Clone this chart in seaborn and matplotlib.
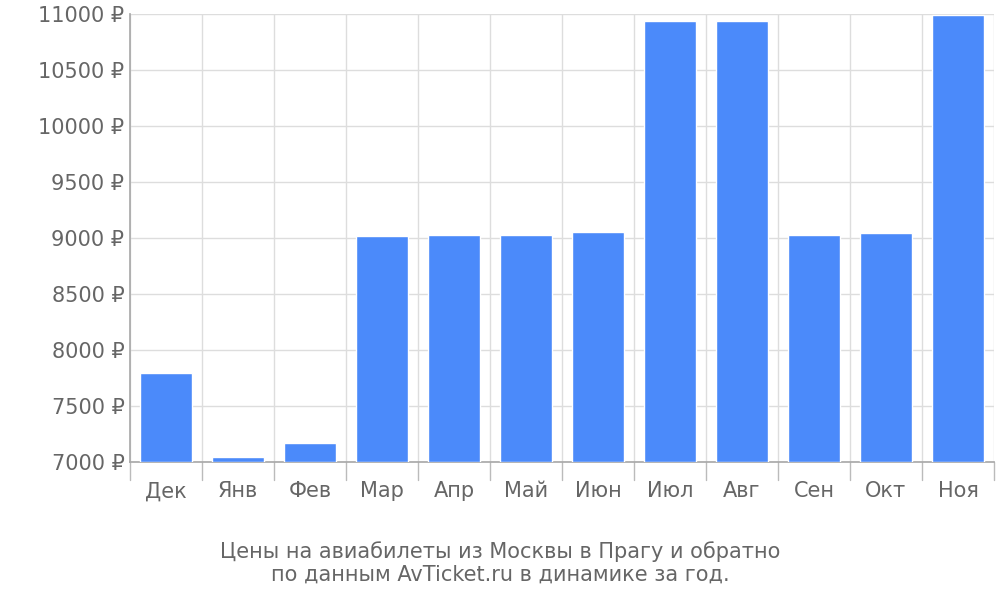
import matplotlib
matplotlib.use("Agg")
import matplotlib.pyplot as plt
import seaborn as sns
import pandas as pd

months = ["Дек", "Янв", "Фев", "Мар", "Апр", "Май", "Июн", "Июл", "Авг", "Сен", "Окт", "Ноя"]
prices = [7795, 7045, 7170, 9018, 9027, 9027, 9052, 10937, 10937, 9027, 9045, 10991]
yticks = [7000, 7500, 8000, 8500, 9000, 9500, 10000, 10500, 11000]
title = "Цены на авиабилеты из Москвы в Прагу и обратно\nпо данным AvTicket.ru в динамике за год."

sns.set_theme(style="white")
plt.rcParams['font.family'] = ['DejaVu Sans']
grey = "#666666"

df = pd.DataFrame({"month": months, "price": prices})
fig = plt.figure(figsize=(10, 6), dpi=100)
ax = fig.add_axes([0.13, 0.23, 0.864, 0.747])

sns.barplot(data=df, x="month", y="price", color="#4b8afa", saturation=1,
            width=0.72, ax=ax, bottom=0, zorder=3)
# bars start at 7000: redraw using bottom offset
for p in ax.patches:
    p.set_y(7000)
    p.set_height(p.get_height() - 7000)

ax.set_ylim(7000, 11000)
ax.set_xlim(-0.5, len(months) - 0.5)
ax.set_yticks(yticks)
ax.set_yticklabels([f"{v} ₽" for v in yticks], color=grey, fontsize=15)
ax.set_xticks(range(len(months)))
ax.set_xticklabels(months, color=grey, fontsize=15)
ax.tick_params(axis="x", length=0, pad=14)
ax.tick_params(axis="y", length=0, pad=4)
ax.set_xlabel("")
ax.set_ylabel("")

# grid lines
for v in yticks:
    ax.axhline(v, color="#dddddd", lw=1, zorder=1)
for i in range(len(months) + 1):
    ax.axvline(i - 0.5, color="#dddddd", lw=1, zorder=1)
    ax.plot([i - 0.5, i - 0.5], [7000, 6840], color="#bbbbbb", lw=1, clip_on=False)

for s in ["top", "right"]:
    ax.spines[s].set_visible(False)
ax.spines["left"].set_color("#aaaaaa")
ax.spines["bottom"].set_color("#aaaaaa")

fig.text(0.5, 0.025, title, ha="center", va="bottom", color=grey, fontsize=15, linespacing=1.2)
fig.savefig("out.png")
